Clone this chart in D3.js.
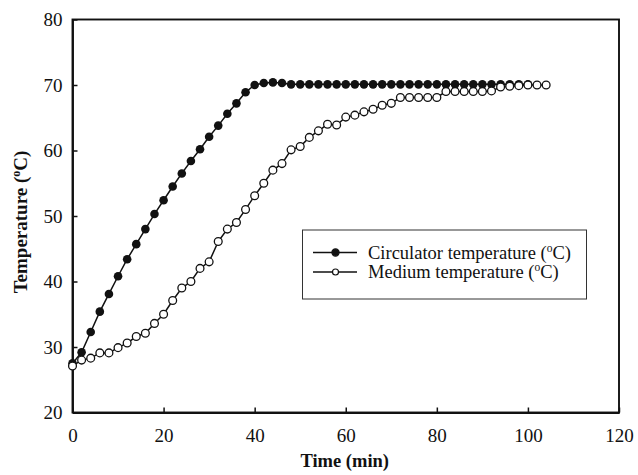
<!DOCTYPE html>
<html><head><meta charset="utf-8">
<script src="https://cdn.jsdelivr.net/npm/d3@7"></script>
<style>body{margin:0;background:#fff}svg{display:block}text{font-family:"Liberation Serif","Times New Roman",serif;fill:#111}</style>
</head><body>
<svg id="c" width="638" height="475"></svg>
<script>
const circTime = [0,2,4,6,8,10,12,14,16,18,20,22,24,26,28,30,32,34,36,38,40,42,44,46,48,50,52,54,56,58,60,62,64,66,68,70,72,74,76,78,80,82,84,86,88,90,92,94,96,98,100];
const circTemp = [27.5,29.2,32.3,35.4,38.1,40.8,43.4,45.7,48.0,50.3,52.4,54.5,56.5,58.4,60.2,62.1,63.8,65.6,67.2,68.9,70.0,70.3,70.4,70.3,70.1,70.1,70.1,70.1,70.1,70.1,70.1,70.1,70.1,70.1,70.1,70.1,70.1,70.1,70.1,70.1,70.1,70.1,70.1,70.1,70.1,70.1,70.1,70.1,70.1,70.1,70.1];
const medTime = [0,2,4,6,8,10,12,14,16,18,20,22,24,26,28,30,32,34,36,38,40,42,44,46,48,50,52,54,56,58,60,62,64,66,68,70,72,74,76,78,80,82,84,86,88,90,92,94,96,98,100,102,104];
const medTemp = [27.1,28.0,28.3,29.1,29.1,29.9,30.6,31.6,32.1,33.6,35.0,37.1,39.0,40.0,42.0,43.0,46.1,48.0,49.0,51.0,53.1,55.0,57.0,58.0,60.1,60.6,62.0,63.0,64.0,63.9,65.1,65.4,65.9,66.3,66.9,67.2,68.1,68.1,68.1,68.1,68.1,69.0,69.0,69.0,69.0,69.0,69.1,69.7,69.8,69.9,70.0,70.0,70.0];
const xTicks = [0,20,40,60,80,100,120];
const yTicks = [20,30,40,50,60,70,80];
const seriesNames = ["Circulator temperature (", "Medium temperature ("];

const svg = d3.select("#c");
const L=72.5, R=619, T=19.5, B=412.5;
const x = d3.scaleLinear().domain([0,120]).range([L,R]);
const y = d3.scaleLinear().domain([20,80]).range([B,T]);

// frame
svg.append("rect").attr("x",L).attr("y",T).attr("width",R-L).attr("height",B-T)
  .attr("fill","none").attr("stroke","#111").attr("stroke-width",1.9);

const xa = svg.append("g").attr("transform",`translate(0,${B})`)
  .call(d3.axisBottom(x).tickValues(xTicks).tickSizeInner(-5).tickSizeOuter(0).tickPadding(16));
const ya = svg.append("g").attr("transform",`translate(${L},0)`)
  .call(d3.axisLeft(y).tickValues(yTicks).tickSizeInner(-5).tickSizeOuter(0).tickPadding(10));
[xa,ya].forEach(a=>{
  a.select(".domain").attr("stroke","#111").attr("stroke-width",1.9);
  a.selectAll(".tick line").attr("stroke","#111").attr("stroke-width",1.5);
  a.selectAll(".tick text").attr("font-size",19).attr("font-family","Liberation Serif").attr("fill","#111");
});

// axis titles
svg.append("text").attr("x",(L+R)/2 - 1).attr("y",467).attr("text-anchor","middle")
  .attr("font-size",18.5).attr("font-weight","bold").text("Time (min)");
const yt = svg.append("text").attr("transform",`translate(27,222) rotate(-90)`)
  .attr("text-anchor","middle").attr("font-size",19).attr("font-weight","bold");
yt.append("tspan").text("Temperature (");
yt.append("tspan").attr("dy",-7).attr("font-size",12).text("o");
yt.append("tspan").attr("dy",7).text("C)");

const line = d3.line().x(d=>x(d[0])).y(d=>y(d[1]));
const circ = circTime.map((t,i)=>[t,circTemp[i]]);
const med = medTime.map((t,i)=>[t,medTemp[i]]);

svg.append("path").datum(circ).attr("d",line).attr("fill","none").attr("stroke","#111").attr("stroke-width",1.5);
svg.append("g").selectAll("circle").data(circ).join("circle")
  .attr("cx",d=>x(d[0])).attr("cy",d=>y(d[1])).attr("r",4.3).attr("fill","#111");
svg.append("path").datum(med).attr("d",line).attr("fill","none").attr("stroke","#111").attr("stroke-width",1.5);
svg.append("g").selectAll("circle").data(med).join("circle")
  .attr("cx",d=>x(d[0])).attr("cy",d=>y(d[1])).attr("r",3.9).attr("fill","#fff")
  .attr("stroke","#111").attr("stroke-width",1.3);

// legend
const lg = svg.append("g");
lg.append("rect").attr("x",302.5).attr("y",230).attr("width",284).attr("height",69)
  .attr("fill","#fff").attr("stroke","#333").attr("stroke-width",1);
seriesNames.forEach((name,i)=>{
  const yy = 252.5 + i*19.5;
  lg.append("line").attr("x1",313).attr("x2",357).attr("y1",yy).attr("y2",yy).attr("stroke","#111").attr("stroke-width",1.5);
  lg.append("circle").attr("cx",335.5).attr("cy",yy).attr("r",i===0?3.6:3)
    .attr("fill",i===0?"#111":"#fff").attr("stroke","#111").attr("stroke-width",1.2);
  const t = lg.append("text").attr("x",368).attr("y",yy+6).attr("font-size",18.5);
  t.append("tspan").text(name);
  t.append("tspan").attr("dy",-7).attr("font-size",11.5).text("o");
  t.append("tspan").attr("dy",7).text("C)");
});
</script>
</body></html>
